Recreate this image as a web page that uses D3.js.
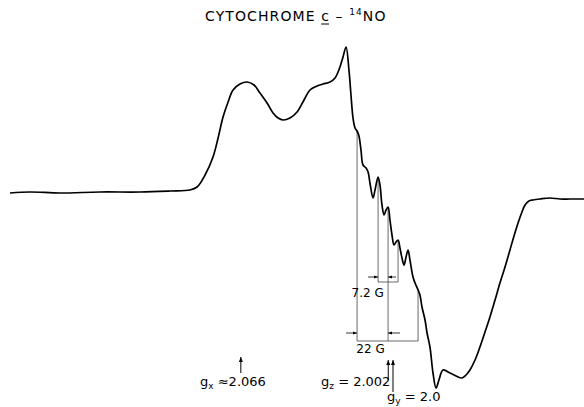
<!DOCTYPE html>
<html>
<head>
<meta charset="utf-8">
<script src="https://cdn.jsdelivr.net/npm/d3@7"></script>
<style>
  body { margin: 0; background: #fff; }
  svg { display: block; font-family: "DejaVu Sans", sans-serif; }
</style>
</head>
<body>
<div id="chart"></div>
<script>
// magnetic field (G) and derivative signal (arb. units)
const field = [3022.7, 3036.5, 3057.2, 3084.8, 3112.4, 3133.1, 3146.9, 3151.8, 3157.3, 3162.8,
  3166.3, 3169.7, 3173.2, 3176.6, 3181.4, 3186.3, 3191.1, 3195.2, 3200.1, 3204.2,
  3207.7, 3211.1, 3215.9, 3220.8, 3225.6, 3229.7, 3234.6, 3238.7, 3243.5, 3247.0,
  3250.4, 3252.5, 3254.6, 3256.6, 3258.0, 3259.4, 3260.8, 3262.2, 3263.5, 3264.9,
  3266.3, 3268.4, 3269.8, 3271.1, 3273.2, 3274.6, 3276.7, 3278.0, 3279.4, 3280.8,
  3282.2, 3283.6, 3284.9, 3286.3, 3287.7, 3289.1, 3290.5, 3291.8, 3293.2, 3294.6,
  3296.0, 3297.4, 3298.7, 3300.8, 3302.2, 3304.3, 3305.6, 3307.0, 3309.1, 3310.5,
  3312.5, 3314.6, 3316.7, 3318.7, 3321.5, 3326.3, 3330.5, 3334.6, 3337.4, 3340.1,
  3343.6, 3347.0, 3350.5, 3353.9, 3357.4, 3360.8, 3364.3, 3367.7, 3370.5, 3373.3,
  3376.0, 3378.1, 3380.8, 3383.6, 3388.4, 3395.3, 3402.2, 3409.1, 3418.8];
const signal = [0, 1, 0, 1, 1, 2, 3, 6, 18, 36,
  55, 76, 91, 103, 109, 111, 108, 100, 90, 80,
  75, 73, 75, 81, 93, 103, 107, 109, 111, 115,
  126, 136, 146, 123, 98, 75, 65, 62, 57, 43,
  28, 25, 21, 10, -5, 3, 16, 8, -12, -22,
  -17, -14, -27, -42, -52, -49, -47, -55, -65, -72,
  -64, -57, -67, -84, -90, -97, -102, -114, -127, -140,
  -154, -180, -195, -187, -177, -180, -183, -185, -182, -177,
  -167, -154, -139, -124, -107, -90, -74, -57, -43, -30,
  -19, -12, -8, -7, -6, -5, -6, -6, -6];

// hyperfine construction lines: field, top, bottom
const hfField = [3262.2, 3276.7, 3283.6, 3290.5, 3304.3];
const hfTop = [62, 16, -14, -47, -97];
const hfBottom = [-148, -89, -148, -89, -148];

// g-value markers
const gValues = [2.066, 2.002, 2.0];
const gLabels = ["x", "z", "y"];
const gText = [" \u22482.066", " = 2.002", " = 2.0"];
const fieldConst = 6574; // H * g (G)

const width = 584, height = 407;

const svg = d3.select('#chart')
  .append('svg')
  .attr('width', width)
  .attr('height', height);

const x = d3.scaleLinear().domain([3022.7, 3418.8]).range([10, 584]);
const y = d3.scaleLinear().domain([-210, 150]).range([403, 43]);

const pts = field.map((f, i) => [f, signal[i]]);

const line = d3.line()
  .x(d => x(d[0]))
  .y(d => y(d[1]))
  .curve(d3.curveCatmullRom.alpha(0.5));

// construction lines
svg.append('g')
  .selectAll('line')
  .data(hfField)
  .join('line')
  .attr('x1', d => x(d)).attr('x2', d => x(d))
  .attr('y1', (d, i) => y(hfTop[i]))
  .attr('y2', (d, i) => y(hfBottom[i]))
  .attr('stroke', '#444')
  .attr('stroke-width', 0.8);

// brackets
svg.append('line')
  .attr('x1', x(hfField[1])).attr('x2', x(hfField[3]))
  .attr('y1', y(-89)).attr('y2', y(-89))
  .attr('stroke', '#444').attr('stroke-width', 0.8);
svg.append('line')
  .attr('x1', x(hfField[0])).attr('x2', x(hfField[4]))
  .attr('y1', y(-148)).attr('y2', y(-148))
  .attr('stroke', '#444').attr('stroke-width', 0.8);

svg.append('defs').append('marker')
  .attr('id', 'ah')
  .attr('viewBox', '0 0 10 10')
  .attr('refX', 10).attr('refY', 5)
  .attr('markerWidth', 5).attr('markerHeight', 5)
  .attr('orient', 'auto')
  .append('path')
  .attr('d', 'M0,1 L10,5 L0,9 Z')
  .attr('fill', '#000');

// splitting arrows: [from, to, signal]
const splitArrows = [
  [3269.8, 3276.7, -84], [3289.1, 3283.6, -84],
  [3254.6, 3262.2, -140], [3291.8, 3283.6, -140]
];
svg.append('g')
  .selectAll('line')
  .data(splitArrows)
  .join('line')
  .attr('x1', d => x(d[0])).attr('x2', d => x(d[1]))
  .attr('y1', d => y(d[2])).attr('y2', d => y(d[2]))
  .attr('stroke', '#000').attr('stroke-width', 0.8)
  .attr('marker-end', 'url(#ah)');

svg.append('text')
  .attr('x', x(3269.5)).attr('y', y(-104))
  .attr('text-anchor', 'middle')
  .attr('font-size', 12)
  .text('7.2 G');
svg.append('text')
  .attr('x', x(3271.5)).attr('y', y(-160))
  .attr('text-anchor', 'middle')
  .attr('font-size', 12)
  .text('22 G');

// spectrum
svg.append('path')
  .datum(pts)
  .attr('d', line)
  .attr('fill', 'none')
  .attr('stroke', '#000')
  .attr('stroke-width', 1.7)
  .attr('stroke-linejoin', 'round');

// g markers
const gArrowTop = [357, 360, 360];
const gArrowBottom = [373, 380, 392];
const gLabelX = [200, 321, 387];
const gLabelY = [386, 386, 401];
gValues.forEach((g, i) => {
  const gx = x(fieldConst / g);
  svg.append('line')
    .attr('x1', gx).attr('x2', gx)
    .attr('y1', gArrowBottom[i]).attr('y2', gArrowTop[i])
    .attr('stroke', '#000').attr('stroke-width', 1)
    .attr('marker-end', 'url(#ah)');
  const t = svg.append('text')
    .attr('x', gLabelX[i]).attr('y', gLabelY[i])
    .attr('font-size', 13);
  t.append('tspan').text('g');
  t.append('tspan').attr('font-size', 9).attr('dy', 3).text(gLabels[i]);
  t.append('tspan').attr('dy', -3).text(gText[i]);
});

// title
const title = svg.append('text')
  .attr('x', 205).attr('y', 21)
  .attr('font-size', 14)
  .attr('letter-spacing', 1.1);
title.append('tspan').text('CYTOCHROME ');
title.append('tspan').text('c');
title.append('tspan').text(' \u2013 ');
title.append('tspan').attr('font-size', 9).attr('dy', -6).text('14');
title.append('tspan').attr('dy', 6).text('NO');

// underline under the "c"
const cBox = title.node().getExtentOfChar(11);
svg.append('line')
  .attr('x1', cBox.x).attr('x2', cBox.x + cBox.width - 1)
  .attr('y1', 24).attr('y2', 24)
  .attr('stroke', '#000').attr('stroke-width', 1);
</script>
</body>
</html>
